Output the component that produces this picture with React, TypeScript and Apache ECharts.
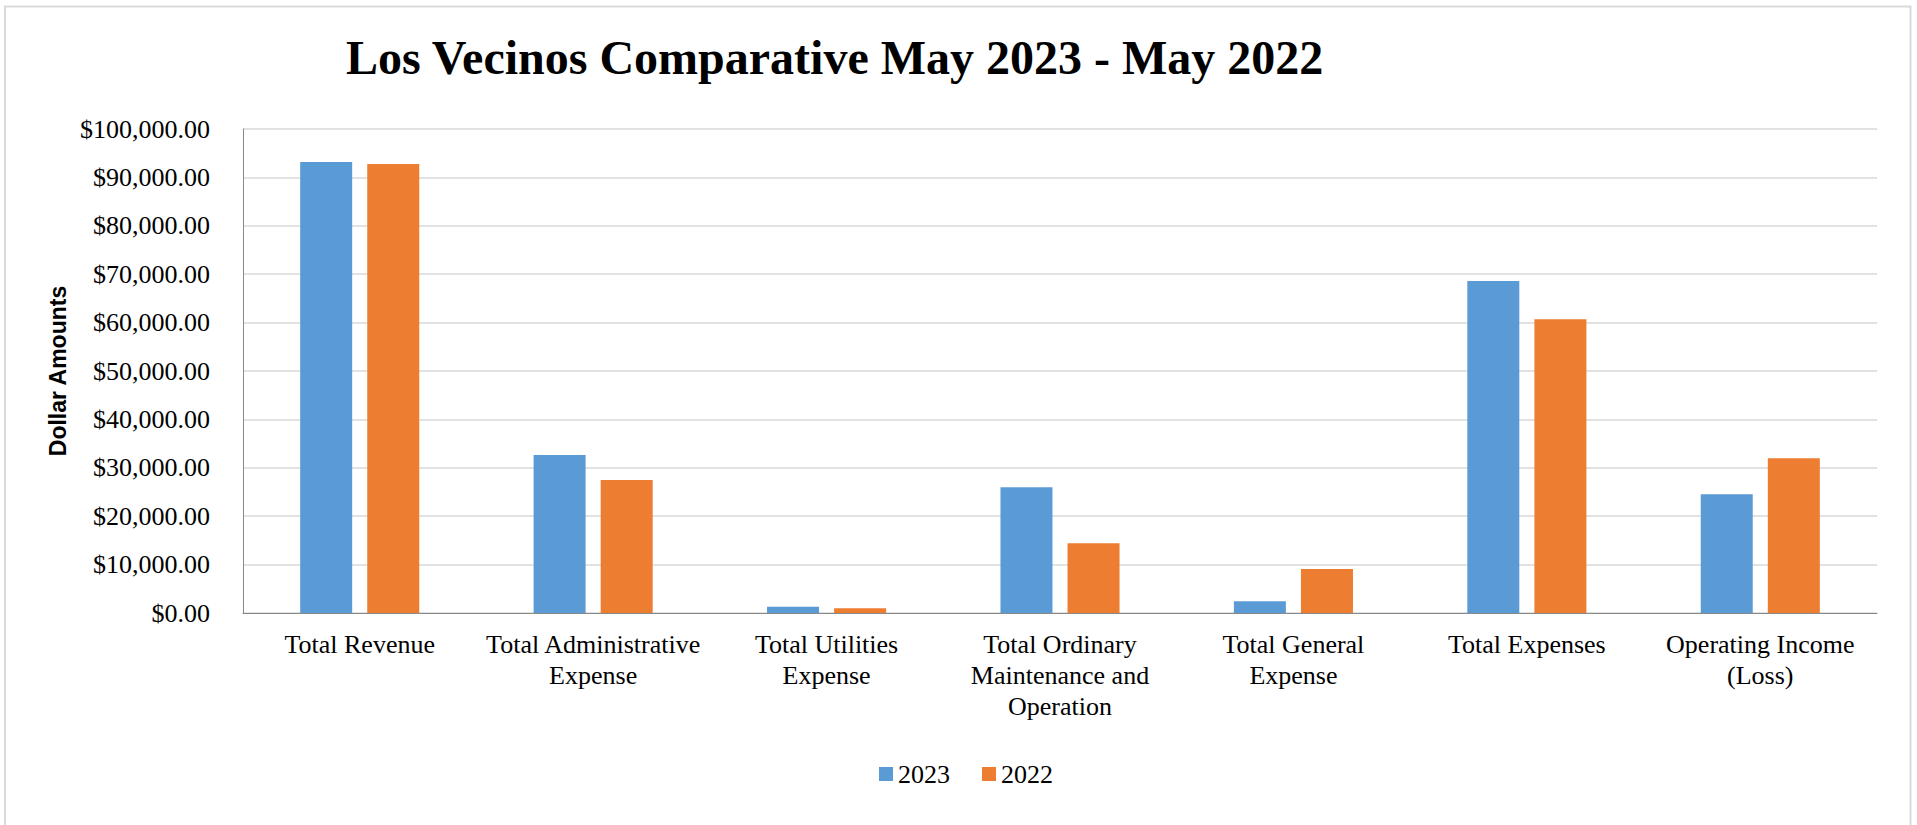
import React, { useEffect, useRef } from "react";
import * as echarts from "echarts";

const categories = [
  "Total Revenue",
  "Total Administrative\nExpense",
  "Total Utilities\nExpense",
  "Total Ordinary\nMaintenance and\nOperation",
  "Total General\nExpense",
  "Total Expenses",
  "Operating Income\n(Loss)",
];
const seriesNames = ["2023", "2022"];
const values2023 = [93180, 32650, 1300, 25970, 2420, 68600, 24520];
const values2022 = [92770, 27480, 970, 14400, 9090, 60680, 31960];
const titleText = "Los Vecinos Comparative May 2023 - May 2022";
const yAxisName = "Dollar Amounts";

const serif = "Liberation Serif";

export default function App() {
  const ref = useRef<HTMLDivElement>(null);
  useEffect(() => {
    if (!ref.current) return;
    const chart = echarts.init(ref.current, null, { renderer: "svg" });
    chart.setOption({
      animation: false,
      backgroundColor: "#ffffff",
      textStyle: { fontFamily: serif },
      title: {
        text: titleText,
        left: 341,
        top: 24,
        textStyle: {
          fontFamily: serif,
          fontWeight: "bold",
          fontSize: 48,
          color: "#000",
          lineHeight: 56,
        },
      },
      graphic: [
        {
          type: "rect",
          shape: { x: 5, y: 6.5, width: 1905.5, height: 900 },
          style: { fill: "none", stroke: "#d9d9d9", lineWidth: 2 },
          silent: true,
        },
      ],
      legend: {
        data: seriesNames,
        left: 874,
        top: 756,
        icon: "rect",
        itemWidth: 14,
        itemHeight: 14,
        itemGap: 32,
        textStyle: { fontFamily: serif, fontSize: 26, color: "#000" },
      },
      grid: { left: 243, right: 40, top: 129, bottom: 212, containLabel: false },
      xAxis: {
        type: "category",
        data: categories,
        axisLine: { show: true, lineStyle: { color: "#898989", width: 1 } },
        axisTick: { show: false },
        axisLabel: {
          interval: 0,
          margin: 16,
          fontFamily: serif,
          fontSize: 26,
          lineHeight: 31,
          color: "#000",
        },
      },
      yAxis: {
        type: "value",
        min: 0,
        max: 100000,
        interval: 10000,
        name: yAxisName,
        nameLocation: "middle",
        nameGap: 172,
        nameRotate: 90,
        nameTextStyle: {
          fontFamily: "Liberation Sans",
          fontWeight: "bold",
          fontSize: 23,
          color: "#000",
        },
        axisLine: { show: true, lineStyle: { color: "#898989", width: 1 } },
        axisTick: { show: false },
        splitLine: { show: true, lineStyle: { color: "#d9d9d9", width: 1.5 } },
        axisLabel: {
          margin: 33,
          fontFamily: serif,
          fontSize: 26,
          color: "#000",
          formatter: (v: number) =>
            "$" + v.toLocaleString("en-US", { minimumFractionDigits: 2, maximumFractionDigits: 2 }),
        },
      },
      series: [
        {
          name: seriesNames[0],
          type: "bar",
          data: values2023,
          barWidth: 52,
          barGap: "29%",
          itemStyle: { color: "#5B9BD5" },
        },
        {
          name: seriesNames[1],
          type: "bar",
          data: values2022,
          barWidth: 52,
          barGap: "29%",
          itemStyle: { color: "#ED7D31" },
        },
      ],
    });
    return () => chart.dispose();
  }, []);
  return (
    <div
      ref={ref}
      style={{ position: "absolute", left: 0, top: 0, width: 1917, height: 825 }}
    />
  );
}
